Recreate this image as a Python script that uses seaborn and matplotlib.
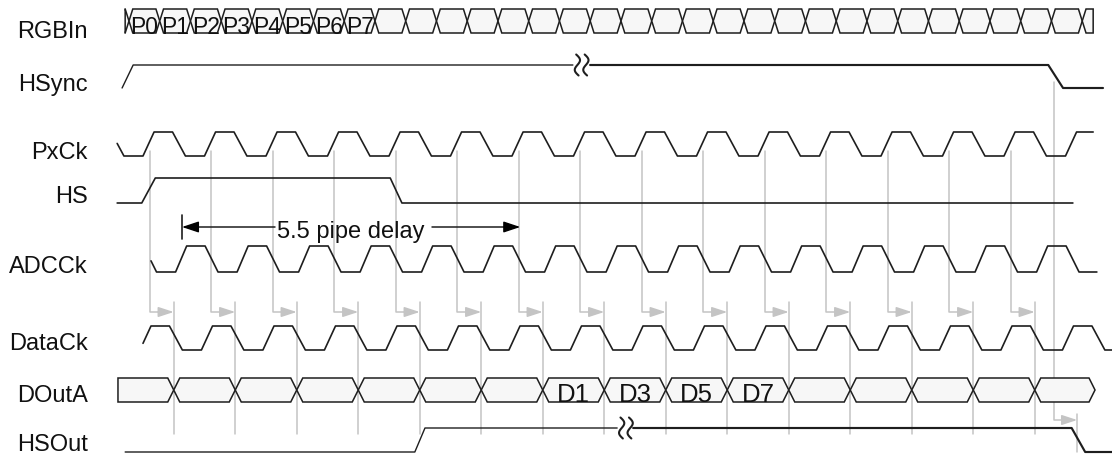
import numpy as np
import pandas as pd
import matplotlib.pyplot as plt
import seaborn as sns

sns.set_theme(style="white")
plt.rcParams['font.family'] = ['Liberation Sans', 'DejaVu Sans']

# time axis in PxCk periods, t=0 is the first PxCk rising edge
signal_names = ["RGBIn", "HSync", "PxCk", "HS", "ADCCk", "DataCk", "DOutA", "HSOut"]

clock_spans = {"PxCk": (-0.42, 15.45), "ADCCk": (0.13, 15.51), "DataCk": (0.0, 15.76)}
clock_shifts = {"PxCk": 0.0, "ADCCk": 0.53, "DataCk": -0.05}
clock_corners = [0.0, 0.18, 0.48, 0.69]   # rise start, high, fall start, low (fraction of period)
clock_levels = [0, 1, 1, 0]

hsync_edges = [(-0.34, 0), (-0.16, 1), (14.72, 1), (14.96, 0), (15.61, 0)]
hs_edges = [(-0.42, 0), (-0.02, 0), (0.2, 1), (4.02, 1), (4.21, 0), (15.12, 0)]
hsout_edges = [(-0.29, 0), (4.42, 0), (4.585, 1), (15.1, 1), (15.32, 0), (15.76, 0)]
breaks = {"HSync": (6.99, 7.27), "HSOut": (7.71, 7.97)}

rgb_span = (-0.29, 15.45)
rgb_first_cross, rgb_step, rgb_count = -0.228, 0.5, 32
rgb_labels = ["P0", "P1", "P2", "P3", "P4", "P5", "P6", "P7"]

dout_span = (-0.407, 15.48)
dout_first_cross, dout_step, dout_count = 0.5, 1.0, 15
dout_labels = {6: "D1", 7: "D3", 8: "D5", 9: "D7"}

sample_edges = [0.11 + k for k in range(15)]    # PxCk sample points
launch_edges = [0.5 + k for k in range(15)]     # DataCk launch points
hs_out_sample = (14.81, 15.19)

pipe_delay_start, pipe_delay = 0.634, 5.5

# ---- layout (pixels) ----
X0, T = 143.0, 61.5
W, H = 1112, 456
levels = {"RGBIn": (10, 34), "HSync": (66, 89), "PxCk": (133, 157), "HS": (179, 204),
          "ADCCk": (247, 273), "DataCk": (327, 351), "DOutA": (379, 403), "HSOut": (429, 453)}
label_base = {"RGBIn": 38, "HSync": 91, "PxCk": 159, "HS": 203, "ADCCk": 273,
              "DataCk": 350, "DOutA": 402, "HSOut": 451}


def px(x):
    return (x - X0) / T


ink = "#1e1e1e"
grey = "#c4c4c4"
fill = "#f7f7f7"

fig = plt.figure(figsize=(W / 100, H / 100), dpi=100)
ax = fig.add_axes([0, 0, 1, 1])

rows = []


def add(name, ts, ls, seg, style):
    hi, lo = levels[name]
    for t, l in zip(ts, ls):
        rows.append(dict(signal=name, seg=seg, t=t, y=lo - l * (lo - hi), style=style))


# clocks
for name, (a, b) in clock_spans.items():
    ct, cl = [], []
    for k in range(-2, 18):
        for off, lev in zip(clock_corners, clock_levels):
            ct.append(k + clock_shifts[name] + off)
            cl.append(lev)
    ct, cl = np.array(ct), np.array(cl)
    inside = (ct > a) & (ct < b)
    ts = np.concatenate([[a], ct[inside], [b]])
    add(name, ts, np.interp(ts, ct, cl), name, "normal")

# level signals
for name, edges in [("HSync", hsync_edges), ("HS", hs_edges), ("HSOut", hsout_edges)]:
    et = np.array([e[0] for e in edges])
    el = np.array([e[1] for e in edges])
    if name in breaks:
        b0, b1 = breaks[name]
        m0 = et < b0
        t0 = np.append(et[m0], b0)
        add(name, t0, np.interp(t0, et, el), name + "a", "thin")
        m1 = et > b1
        t1 = np.insert(et[m1], 0, b1)
        add(name, t1, np.interp(t1, et, el), name + "b", "thick")
    else:
        add(name, et, el, name, "normal")

waves = pd.DataFrame(rows)

# grey timing guides
arrow_grey = dict(arrowstyle="-|>,head_length=0.55,head_width=0.18",
                  mutation_scale=17, color=grey, lw=1.1, shrinkA=0, shrinkB=0)
for x1, x2 in zip(sample_edges, launch_edges):
    ax.plot([x1, x1, x2 - 0.1], [152, 313, 313], color=grey, lw=1.1, zorder=1)
    ax.annotate("", xy=(x2, 313), xytext=(x2 - 0.25, 313), arrowprops=arrow_grey, zorder=1)
    ax.plot([x2, x2], [303, 435], color=grey, lw=1.1, zorder=1)

s1, s2 = hs_out_sample
ax.plot([s1, s1, s2 - 0.1], [83, 421, 421], color=grey, lw=1.1, zorder=1)
ax.annotate("", xy=(s2, 421), xytext=(s2 - 0.25, 421), arrowprops=arrow_grey, zorder=1)
ax.plot([s2, s2], [415, 453], color=grey, lw=1.1, zorder=1)

sns.lineplot(data=waves, x="t", y="y", units="seg", estimator=None, sort=False,
             size="style", sizes={"thin": 1.0, "normal": 1.2, "thick": 1.55},
             color=ink, legend=False, ax=ax, zorder=3)
ax.set_xlim(px(0), px(W))
ax.set_ylim(H, 0)
ax.axis("off")

# break marks
u = np.linspace(-1, 1, 40)
for name, (b0, b1) in breaks.items():
    hi, lo = levels[name]
    for off in (4.5, 13.0):
        xc = b0 + off / T
        ax.plot(xc + (-3.2 * np.sin(np.pi * u) + 1.2 * u) / T, hi + 10.5 * u,
                color=ink, lw=1.5, zorder=4)


# buses
def hexcell(a, b, h, hi, lo, left_flat=False, right_flat=False):
    mid = (hi + lo) / 2
    pts = []
    if left_flat:
        pts.append((a, hi))
    else:
        pts += [(a, mid), (a + h, hi)]
    if right_flat:
        pts += [(b, hi), (b, lo)]
    else:
        pts += [(max(b - h, a), hi), (b, mid), (max(b - h, a), lo)]
    pts.append((a, lo) if left_flat else (a + h, lo))
    xs, ys = zip(*pts)
    ax.fill(xs, ys, facecolor=fill, edgecolor=ink, lw=1.1, zorder=3)


def bus(name, span, first, step, count, h, labels, fsize, right_flat):
    hi, lo = levels[name]
    cross = [first + step * k for k in range(count)]
    hexcell(span[0], cross[0], h, hi, lo, left_flat=True)
    for i in range(count - 1):
        hexcell(cross[i], cross[i + 1], h, hi, lo)
        if i in labels:
            ax.text((cross[i] + cross[i + 1]) / 2, lo - 0.5, labels[i], ha="center", va="baseline",
                    fontsize=fsize, color="#111111", zorder=4)
    hexcell(cross[-1], span[1], h, hi, lo, right_flat=right_flat)


bus("RGBIn", rgb_span, rgb_first_cross, rgb_step, rgb_count, 3.8 / T,
    dict(enumerate(rgb_labels)), 16.5, True)
bus("DOutA", dout_span, dout_first_cross, dout_step, dout_count, 6 / T,
    dout_labels, 18.5, False)

# pipe delay marker
pd_end = pipe_delay_start + pipe_delay
ax.plot([pipe_delay_start, pipe_delay_start], [216, 240], color=ink, lw=1.2)
ax.plot([pipe_delay_start + 0.2, px(275)], [228, 228], color=ink, lw=1.1)
ax.plot([px(432), pd_end - 0.2], [228, 228], color=ink, lw=1.1)
for tip, tail in [(pipe_delay_start, pipe_delay_start + 0.26), (pd_end, pd_end - 0.26)]:
    ax.annotate("", xy=(tip, 228), xytext=(tail, 228),
                arrowprops=dict(arrowstyle="-|>,head_length=0.6,head_width=0.2",
                                mutation_scale=17, color="black", lw=1.0, shrinkA=0, shrinkB=0))
ax.text(px(277), 238, f"{pipe_delay} pipe delay", ha="left", va="baseline",
        fontsize=17, color="#111111")

# signal names
for name in signal_names:
    ax.text(px(88), label_base[name], name, ha="right", va="baseline", fontsize=17, color="#111111")

fig.savefig("out.png", dpi=100)
